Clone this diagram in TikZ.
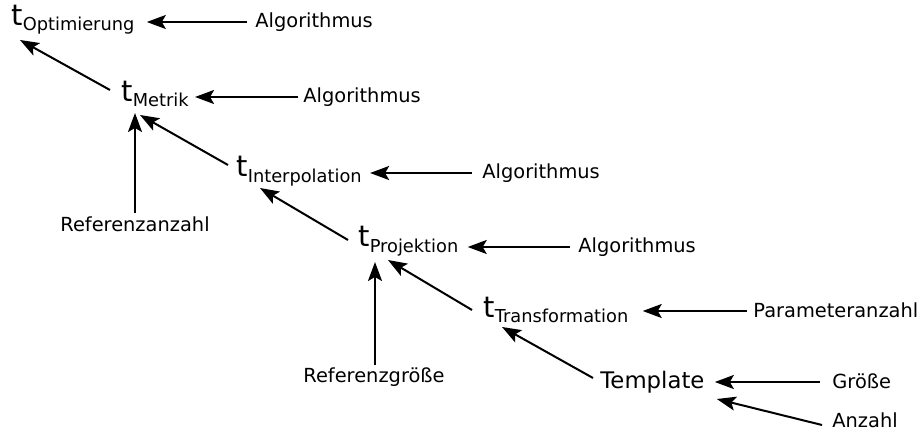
\documentclass[tikz,border=0pt]{standalone}
\usepackage{fontspec}
\setmainfont{DejaVu Sans}
\usetikzlibrary{arrows.meta,calc}

% t with a lowered subscript, as used for the time quantities
\newcommand{\tquant}[1]{{\fontsize{14.5}{15}\selectfont t}\raisebox{-2.5pt}{\fontsize{8.9}{9}\selectfont #1}}

\tikzset{
  tnode/.style={inner sep=0pt, anchor=base west},
  lbl/.style={inner sep=0pt, anchor=base west, font=\fontsize{9.7}{11}\selectfont},
  arr/.style={line width=1pt, -{Stealth[length=9.5pt,width=7pt,inset=2pt]}}
}

\begin{document}
\begin{tikzpicture}[x=0.5pt,y=-0.5pt]
\useasboundingbox (0,0) rectangle (920,438);

% chain of time quantities
\node[tnode] (topt)  at (11,26)   {\tquant{Optimierung}};
\node[tnode] (tmet)  at (121,102) {\tquant{Metrik}};
\node[tnode] (tint)  at (236,177) {\tquant{Interpolation}};
\node[tnode] (tpro)  at (358,247) {\tquant{Projektion}};
\node[tnode] (ttra)  at (483,317) {\tquant{Transformation}};
\node[tnode, font=\fontsize{11.4}{13}\selectfont] (templ) at (600,388) {Template};

% influencing parameters
\node[lbl] (algo1)   at (255,28)  {Algorithmus};
\node[lbl] (algo2)   at (303,103) {Algorithmus};
\node[lbl] (algo3)   at (482,179) {Algorithmus};
\node[lbl] (algo4)   at (578,253) {Algorithmus};
\node[lbl] (refanz)  at (60,232)  {Referenzanzahl};
\node[lbl] (refgr)   at (303,382) {Referenzgröße};
\node[lbl] (param)   at (753,317) {Parameteranzahl};
\node[lbl] (groesse) at (832,388) {Größe};
\node[lbl] (anzahl)  at (832,427) {Anzahl};

% horizontal arrows from the parameters
\draw[arr] ($(algo1.base west)+(-8,-6)$)  -- ($(topt.base east)+(12,-4)$);
\draw[arr] ($(algo2.base west)+(-5,-6)$)  -- ($(tmet.base east)+(6,-5)$);
\draw[arr] ($(algo3.base west)+(-10,-6)$) -- ($(tint.base east)+(8,-4)$);
\draw[arr] ($(algo4.base west)+(-8,-6)$)  -- ($(tpro.base east)+(9,0)$);
\draw[arr] ($(param.base west)+(-6,-6)$)  -- ($(ttra.base east)+(14,-6)$);
\draw[arr] ($(groesse.base west)+(-12,-6)$) -- ($(templ.base east)+(10,-6)$);
\draw[arr] ($(anzahl.base west)+(-10,-2)$)  -- ($(templ.base east)+(12,11)$);

% diagonal chain
\draw[arr] ($(tmet.base west)+(-11,-12)$) -- ($(topt.base west)+(9,14)$);
\draw[arr] ($(tint.base west)+(-8,-12)$)  -- ($(tmet.base west)+(19,13)$);
\draw[arr] ($(tpro.base west)+(-10,-7)$)  -- ($(tint.base west)+(24,11)$);
\draw[arr] ($(ttra.base west)+(-11,-7)$)  -- ($(tpro.base west)+(30,13)$);
\draw[arr] ($(templ.base west)+(-7,-10)$) -- ($(ttra.base west)+(19,10)$);

% vertical arrows
\draw[arr] ($(refanz.base west)+(75,-19)$) -- ($(tmet.base west)+(14,11)$);
\draw[arr] ($(refgr.base west)+(72,-17)$)  -- ($(tpro.base west)+(17,15)$);
\end{tikzpicture}
\end{document}
